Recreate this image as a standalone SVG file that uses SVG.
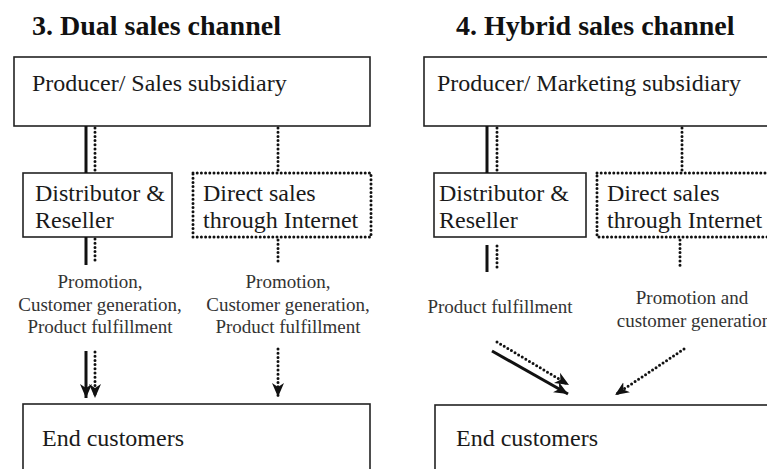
<svg xmlns="http://www.w3.org/2000/svg" width="767" height="469" viewBox="0 0 767 469">
  <style>
    .title { font-family: "Liberation Serif", "Times New Roman", serif; font-weight: bold; font-size: 28px; fill: #111; }
    .box { fill: #fff; stroke: #222; stroke-width: 1.6; }
    .dotbox { fill: #fff; stroke: #111; stroke-width: 3; stroke-dasharray: 0 4.2; stroke-linecap: round; }
    .txt { font-family: "Liberation Serif", "Times New Roman", serif; font-size: 24px; fill: #1a1a1a; }
    .lbl { font-family: "Liberation Serif", "Times New Roman", serif; font-size: 19px; fill: #333; text-anchor: middle; }
    .solid { stroke: #111; stroke-width: 3; fill: none; }
    .dots { stroke: #111; stroke-width: 3; stroke-dasharray: 0 4.2; stroke-linecap: round; fill: none; }
  </style>
  <defs>
    <marker id="head" markerUnits="userSpaceOnUse" markerWidth="15" markerHeight="13" refX="14" refY="6.5" orient="auto">
      <path d="M0,0.5 L14,6.5 L0,12.5 L4,6.5 Z" fill="#111" stroke="none"/>
    </marker>
  </defs>
  <rect width="767" height="469" fill="#fff"/>

  <!-- Panel 3 -->
  <text class="title" x="32" y="35">3. Dual sales channel</text>

  <g id="p3-producer">
    <rect class="box" x="14" y="57" width="356" height="69"/>
    <text class="txt" x="32" y="91">Producer/ Sales subsidiary</text>
  </g>
  <g id="p3-distributor">
    <rect class="box" x="23" y="173" width="149" height="64"/>
    <text class="txt" x="35" y="201">Distributor &amp;</text>
    <text class="txt" x="35" y="228">Reseller</text>
  </g>
  <g id="p3-direct">
    <rect class="dotbox" x="193" y="173" width="178" height="64"/>
    <text class="txt" x="203" y="201">Direct sales</text>
    <text class="txt" x="203" y="228">through Internet</text>
  </g>
  <g id="p3-labels">
    <text class="lbl" x="100" y="288">Promotion,</text>
    <text class="lbl" x="100" y="311">Customer generation,</text>
    <text class="lbl" x="100" y="333">Product fulfillment</text>
    <text class="lbl" x="288" y="288">Promotion,</text>
    <text class="lbl" x="288" y="311">Customer generation,</text>
    <text class="lbl" x="288" y="333">Product fulfillment</text>
  </g>
  <g id="p3-customers">
    <rect class="box" x="23" y="404" width="347" height="80" stroke="#444" stroke-width="2"/>
    <text class="txt" x="42" y="446">End customers</text>
  </g>

  <!-- Panel 4 -->
  <text class="title" x="456" y="35">4. Hybrid sales channel</text>

  <g id="p4-producer">
    <rect class="box" x="424" y="57" width="380" height="69"/>
    <text class="txt" x="437" y="91">Producer/ Marketing subsidiary</text>
  </g>
  <g id="p4-distributor">
    <rect class="box" x="434" y="173" width="152" height="64"/>
    <text class="txt" x="439" y="201">Distributor &amp;</text>
    <text class="txt" x="439" y="228">Reseller</text>
  </g>
  <g id="p4-direct">
    <rect class="dotbox" x="597" y="173" width="200" height="64"/>
    <text class="txt" x="607" y="201">Direct sales</text>
    <text class="txt" x="607" y="228">through Internet</text>
  </g>
  <g id="p4-labels">
    <text class="lbl" x="500" y="313">Product fulfillment</text>
    <text class="lbl" x="692" y="304">Promotion and</text>
    <text class="lbl" x="694" y="327">customer generation</text>
  </g>
  <g id="p4-customers">
    <rect class="box" x="435" y="405" width="380" height="80" stroke="#444" stroke-width="2"/>
    <text class="txt" x="456" y="446">End customers</text>
  </g>

  <!-- Connectors -->
  <g id="connectors">
    <!-- panel 3 -->
    <line class="solid" x1="86" y1="126" x2="86" y2="173"/>
    <line class="dots" x1="95" y1="128" x2="95" y2="171"/>
    <line class="dots" x1="278" y1="128" x2="278" y2="172"/>
    <line class="solid" x1="86" y1="237" x2="86" y2="265"/>
    <line class="dots" x1="95" y1="239" x2="95" y2="263"/>
    <line class="dots" x1="278" y1="240" x2="278" y2="262"/>
    <line class="solid" x1="86" y1="351" x2="86" y2="398" marker-end="url(#head)"/>
    <line class="dots" x1="95" y1="352" x2="95" y2="398" marker-end="url(#head)"/>
    <line class="dots" x1="278" y1="349" x2="278" y2="397" marker-end="url(#head)"/>
    <!-- panel 4 -->
    <line class="solid" x1="487" y1="126" x2="487" y2="173"/>
    <line class="dots" x1="497" y1="128" x2="497" y2="171"/>
    <line class="dots" x1="682" y1="128" x2="682" y2="172"/>
    <line class="solid" x1="487" y1="245" x2="487" y2="272"/>
    <line class="dots" x1="497" y1="246" x2="497" y2="271"/>
    <line class="dots" x1="680" y1="240" x2="680" y2="267"/>
    <line class="solid" x1="492" y1="351" x2="568" y2="394" marker-end="url(#head)"/>
    <line class="dots" x1="497" y1="342" x2="569" y2="385" marker-end="url(#head)"/>
    <line class="dots" x1="684" y1="349" x2="615" y2="395" marker-end="url(#head)"/>
  </g>
</svg>
